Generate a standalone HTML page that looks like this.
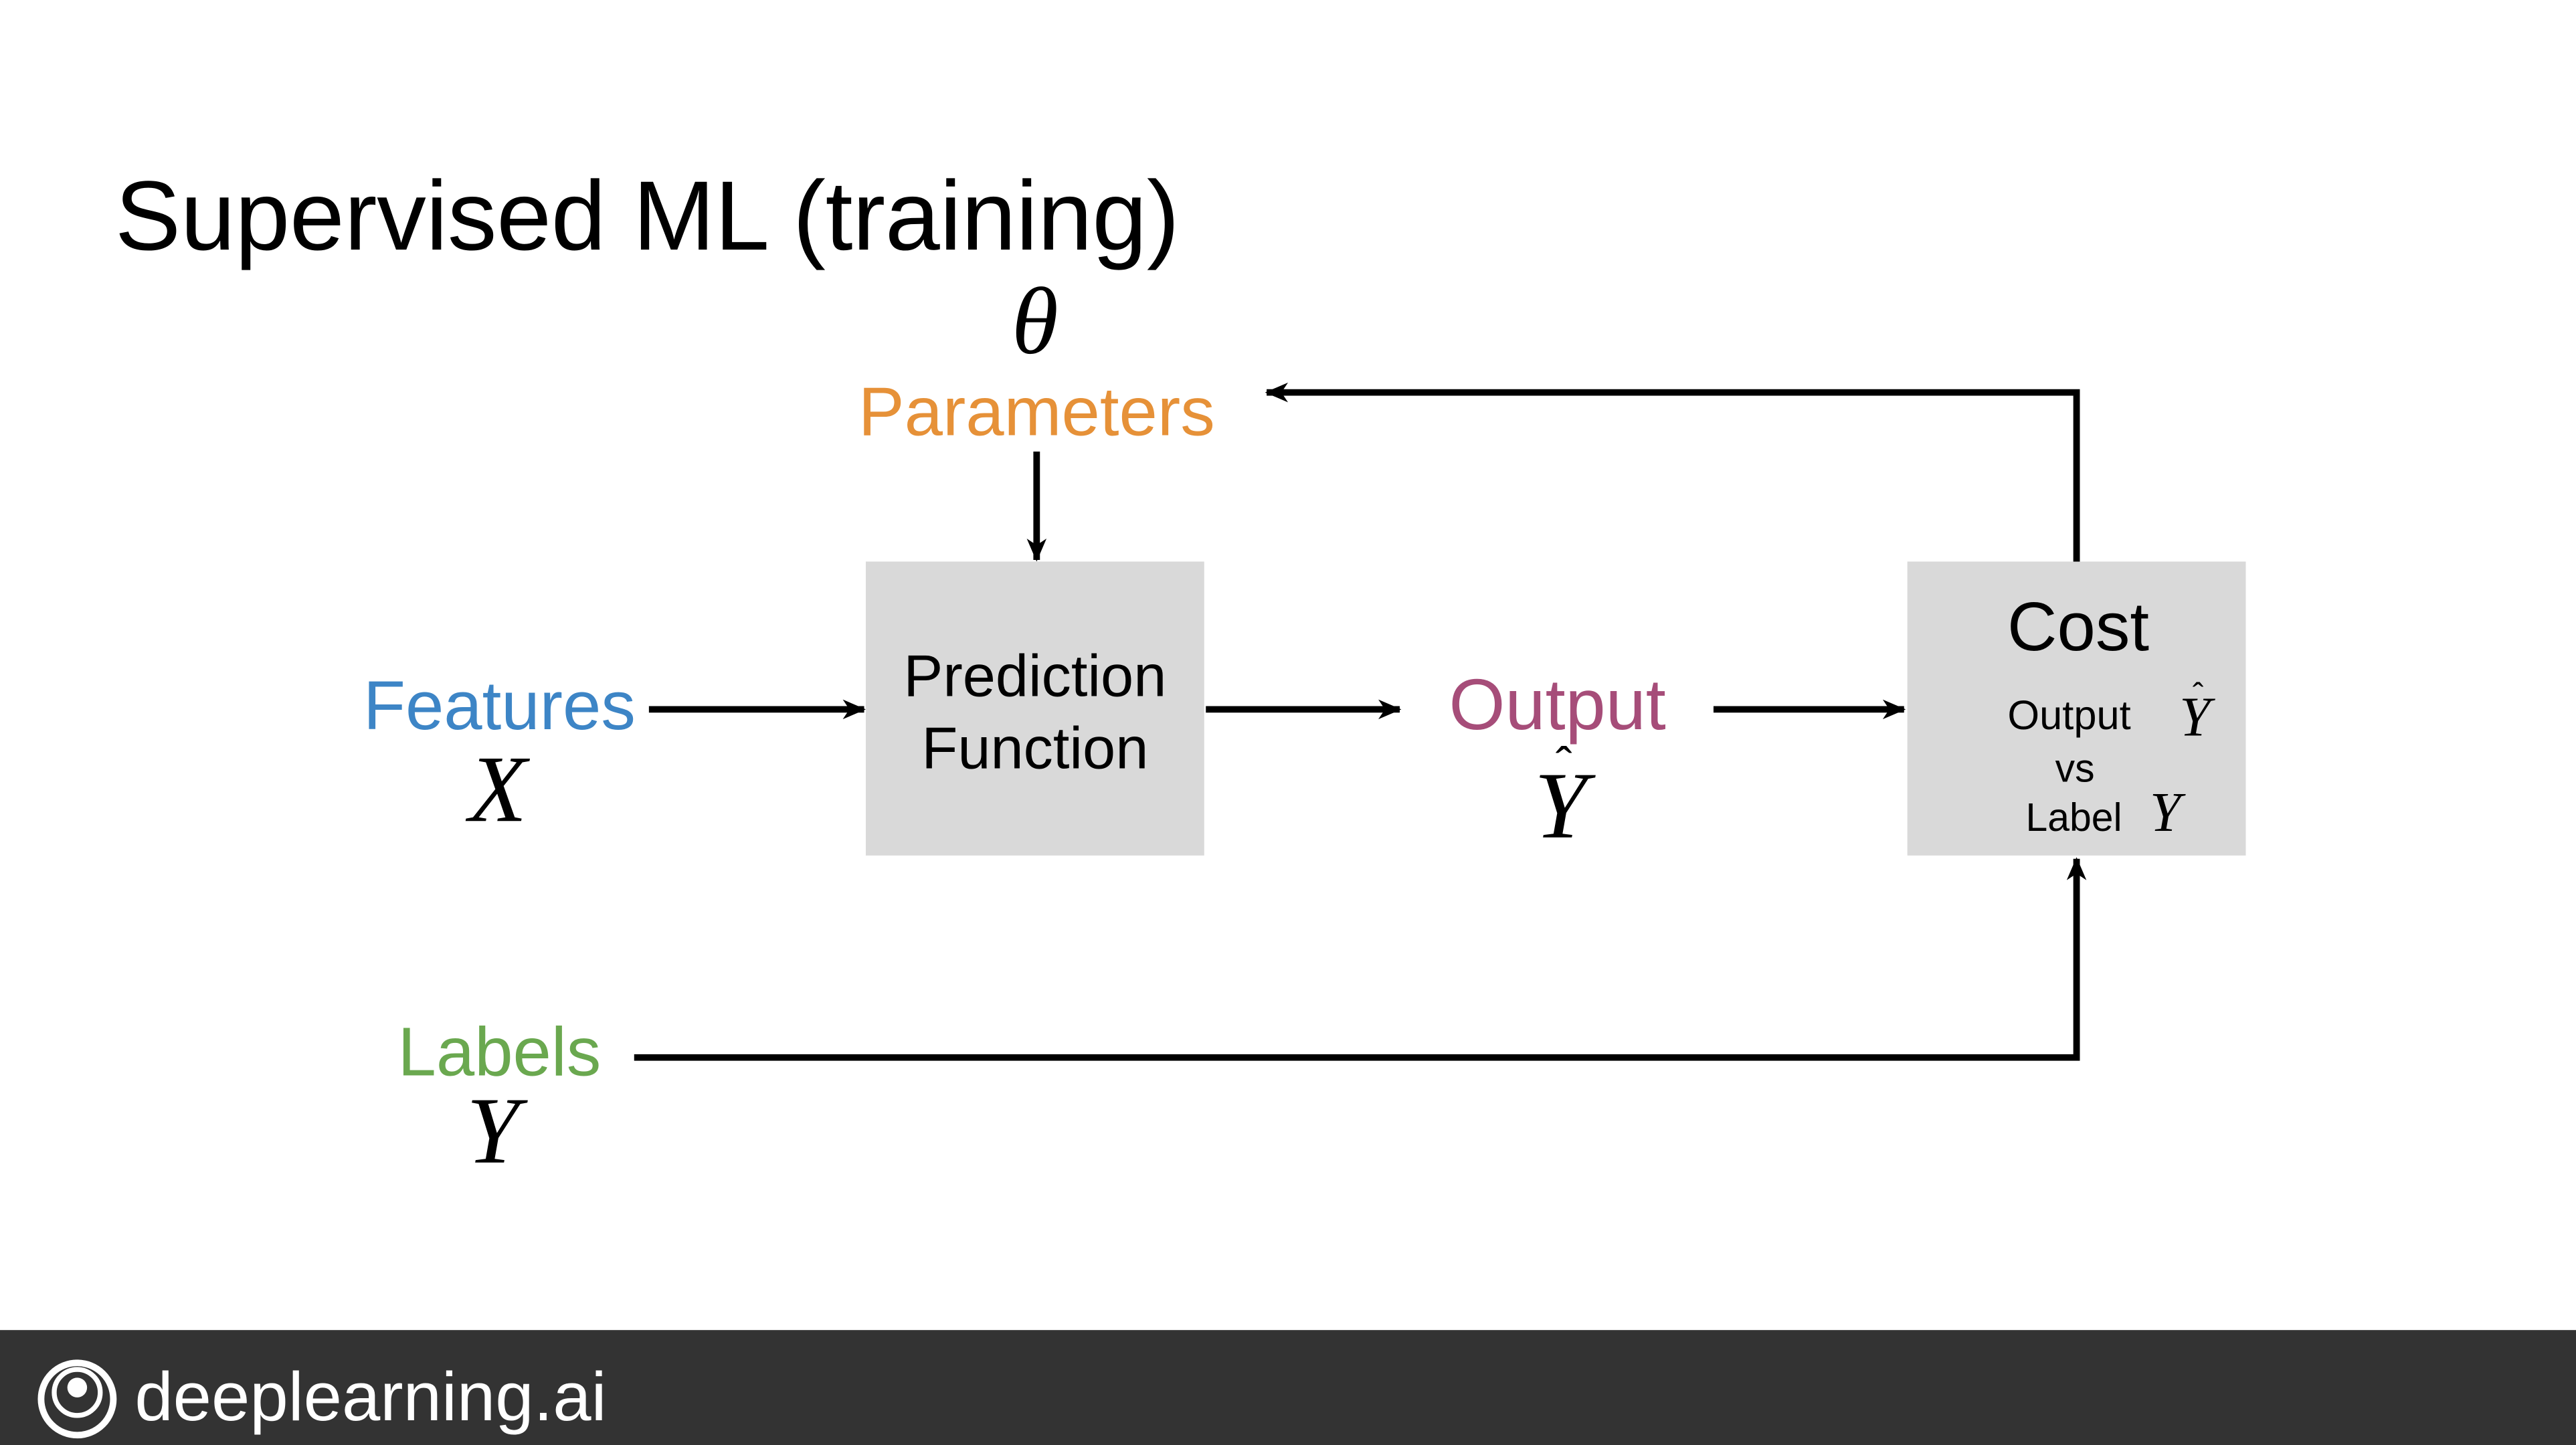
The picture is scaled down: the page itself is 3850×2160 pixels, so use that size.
<!DOCTYPE html>
<html>
<head>
<meta charset="utf-8">
<style>
html,body{margin:0;padding:0;background:#fff;}
svg{display:block;}
text{font-family:"Liberation Sans",sans-serif;}
.m{font-family:"Liberation Serif",serif;font-style:italic;}
</style>
</head>
<body>
<svg width="3850" height="2160" viewBox="0 0 1568 880" preserveAspectRatio="none" xmlns="http://www.w3.org/2000/svg">
<defs>
<marker id="ah" markerWidth="14" markerHeight="12" refX="13" refY="6" orient="auto" markerUnits="userSpaceOnUse">
<path d="M0,0 L14,6 L0,12 L4,6 Z" fill="#000"/>
</marker>
</defs>
<rect width="1568" height="880" fill="#fff"/>
<text x="70" y="152" font-size="60" fill="#000" textLength="648">Supervised ML (training)</text>

<text x="630" y="215" font-size="58" class="m" text-anchor="middle">θ</text>
<text x="631" y="265" font-size="42" fill="#E69138" text-anchor="middle">Parameters</text>
<line x1="631" y1="275" x2="631" y2="341" stroke="#000" stroke-width="4" marker-end="url(#ah)"/>

<rect x="527" y="342" width="206" height="179" fill="#D9D9D9"/>
<text x="630" y="424" font-size="36" text-anchor="middle">Prediction</text>
<text x="630" y="468" font-size="36" text-anchor="middle">Function</text>

<text x="304" y="444" font-size="42" fill="#3D85C6" text-anchor="middle">Features</text>
<text x="303" y="500" font-size="58" class="m" text-anchor="middle">X</text>
<line x1="395" y1="432" x2="526" y2="432" stroke="#000" stroke-width="4" marker-end="url(#ah)"/>

<line x1="734" y1="432" x2="852" y2="432" stroke="#000" stroke-width="4" marker-end="url(#ah)"/>
<text x="948" y="444" font-size="44" fill="#A64D79" text-anchor="middle">Output</text>
<text x="950" y="510" font-size="58" class="m" text-anchor="middle">Y</text>
<text x="952" y="476" font-size="30" font-family="Liberation Serif" text-anchor="middle">ˆ</text>

<line x1="1043" y1="432" x2="1159" y2="432" stroke="#000" stroke-width="4" marker-end="url(#ah)"/>

<rect x="1161" y="342" width="206" height="179" fill="#D9D9D9"/>
<text x="1265" y="396" font-size="42" text-anchor="middle">Cost</text>
<text x="1222" y="444" font-size="25">Output</text>
<text x="1336" y="448" font-size="34" class="m" text-anchor="middle">Y</text>
<text x="1338" y="430" font-size="20" font-family="Liberation Serif" text-anchor="middle">ˆ</text>
<text x="1263" y="476" font-size="24" text-anchor="middle">vs</text>
<text x="1233" y="506" font-size="24">Label</text>
<text x="1318" y="506" font-size="34" class="m" text-anchor="middle">Y</text>

<polyline points="1264,342 1264,239 771,239" fill="none" stroke="#000" stroke-width="4" marker-end="url(#ah)"/>

<text x="304" y="655" font-size="42" fill="#6AA84F" text-anchor="middle">Labels</text>
<text x="300" y="708" font-size="58" class="m" text-anchor="middle">Y</text>
<polyline points="386,644 1264,644 1264,523" fill="none" stroke="#000" stroke-width="4" marker-end="url(#ah)"/>

<rect x="0" y="810" width="1568" height="70" fill="#333333"/>
<circle cx="47" cy="852" r="22" fill="none" stroke="#fff" stroke-width="4"/>
<circle cx="47" cy="848" r="14" fill="none" stroke="#fff" stroke-width="3"/>
<circle cx="47" cy="845" r="6" fill="#fff"/>
<text x="82" y="865" font-size="42" fill="#fff">deeplearning.ai</text>
</svg>
</body>
</html>
